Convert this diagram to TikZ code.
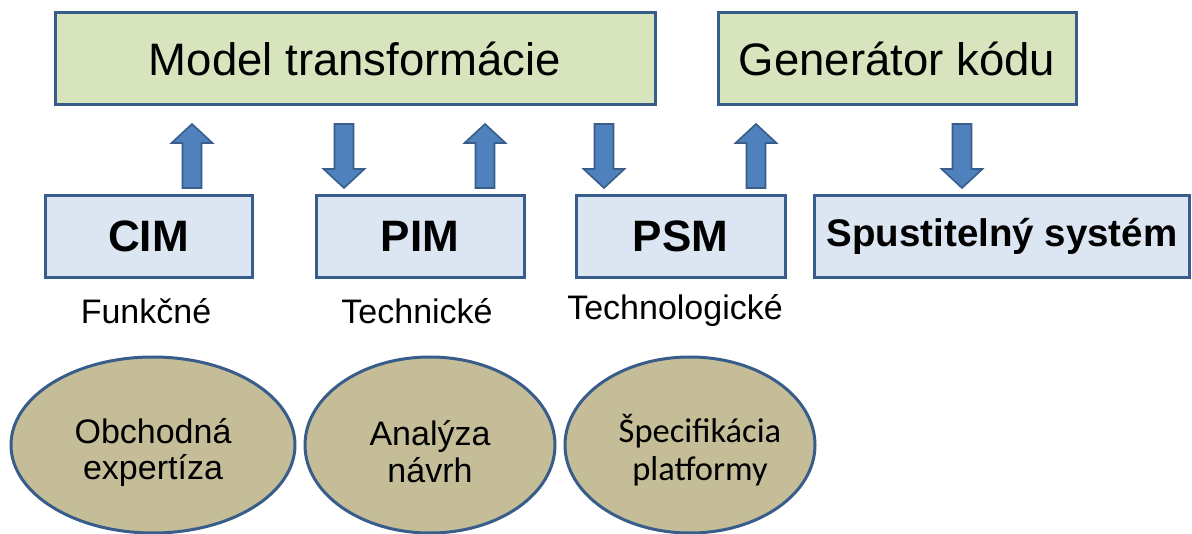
\documentclass[tikz,border=0pt]{standalone}
\usepackage{fontspec}
\setmainfont{Liberation Sans}
\newfontfamily\calibrifont{Carlito}
\usetikzlibrary{shapes.geometric,calc}

\definecolor{edgeblue}{HTML}{385D8A}
\definecolor{arrowblue}{HTML}{4F81BD}
\definecolor{toolgreen}{HTML}{D7E4BD}
\definecolor{modelblue}{HTML}{DCE6F2}
\definecolor{knowtan}{HTML}{C4BD97}

\tikzset{
  toolbox/.style={draw=edgeblue, line width=3pt, fill=toolgreen, inner sep=0pt,
    minimum height=92pt, font=\fontsize{45.5}{48}\selectfont},
  modelbox/.style={draw=edgeblue, line width=3pt, fill=modelblue, inner sep=0pt,
    minimum height=82pt, font=\bfseries\fontsize{44}{46}\selectfont},
  levellabel/.style={inner sep=0pt, font=\fontsize{34}{36}\selectfont},
  knowledge/.style={ellipse, draw=edgeblue, line width=3pt, fill=knowtan, inner sep=0pt,
    minimum height=176pt, align=center, font=\fontsize{34}{36.5}\selectfont},
  barrow/.style={draw=edgeblue, line width=1.6pt, fill=arrowblue, line join=miter},
}

% vertical block arrow from tail #1 to tip #2 (head length 19pt)
\newcommand\blockarrow[2]{%
  \draw[barrow] let \p1=(#1), \p2=(#2), \n1={((\y2>\y1)*2-1)*19pt} in
    ({\x1-9.5pt},{\y1}) -- ({\x1-9.5pt},{\y2-\n1}) -- ({\x1-20.5pt},{\y2-\n1})
    -- ({\x2},{\y2}) -- ({\x1+20.5pt},{\y2-\n1}) -- ({\x1+9.5pt},{\y2-\n1})
    -- ({\x1+9.5pt},{\y1}) -- cycle;}

\begin{document}
\begin{tikzpicture}[x=1pt,y=-1pt]
\useasboundingbox (0,0) rectangle (1192,534);

% transformation tools
\node[toolbox, minimum width=600pt] (mt) at (355,59) {Model transformácie};
\node[toolbox, minimum width=358pt] (gk) at (897,59) {Generátor kódu};

% models
\node[modelbox, minimum width=207pt] (cim) at (148.5,236.5) {CIM};
\node[modelbox, minimum width=208pt] (pim) at (420,236.5) {PIM};
\node[modelbox, minimum width=209pt] (psm) at (680.5,236.5) {PSM};
\node[modelbox, minimum width=375pt, font=\bfseries\fontsize{38.5}{42}\selectfont] (run) at (1002,236.5) {Spustitelný systém};

% level labels
\node[levellabel] (lf) at (146,311) {Funkčné};
\node[levellabel] (lt) at (417,311) {Technické};
\node[levellabel] (lg) at (675,311) {Technologické};

% knowledge sources
\node[knowledge, minimum width=284pt] (ob) at (153,445) {\rule{0pt}{40pt}Obchodná\\expertíza};
\node[knowledge, minimum width=250pt] (an) at (430,445) {\rule{0pt}{38pt}Analýza\\návrh};
\node[knowledge, minimum width=250pt, inner xsep=-14pt, font=\calibrifont\fontsize{34.5}{38}\selectfont] (sp) at (690,445)
  {\rule{0pt}{38pt}\hspace*{20pt}Špecifikácia\\\hspace*{20pt}platformy};

% arrow ends
\coordinate (a1s) at (192,188); \coordinate (a1e) at (192,124);
\coordinate (a2s) at (344,124); \coordinate (a2e) at (344,188);
\coordinate (a3s) at (485,188); \coordinate (a3e) at (485,124);
\coordinate (a4s) at (604,124); \coordinate (a4e) at (604,188);
\coordinate (a5s) at (756,188); \coordinate (a5e) at (756,124);
\coordinate (a6s) at (962,124); \coordinate (a6e) at (962,188);

\blockarrow{a1s}{a1e}
\blockarrow{a2s}{a2e}
\blockarrow{a3s}{a3e}
\blockarrow{a4s}{a4e}
\blockarrow{a5s}{a5e}
\blockarrow{a6s}{a6e}
\end{tikzpicture}
\end{document}
